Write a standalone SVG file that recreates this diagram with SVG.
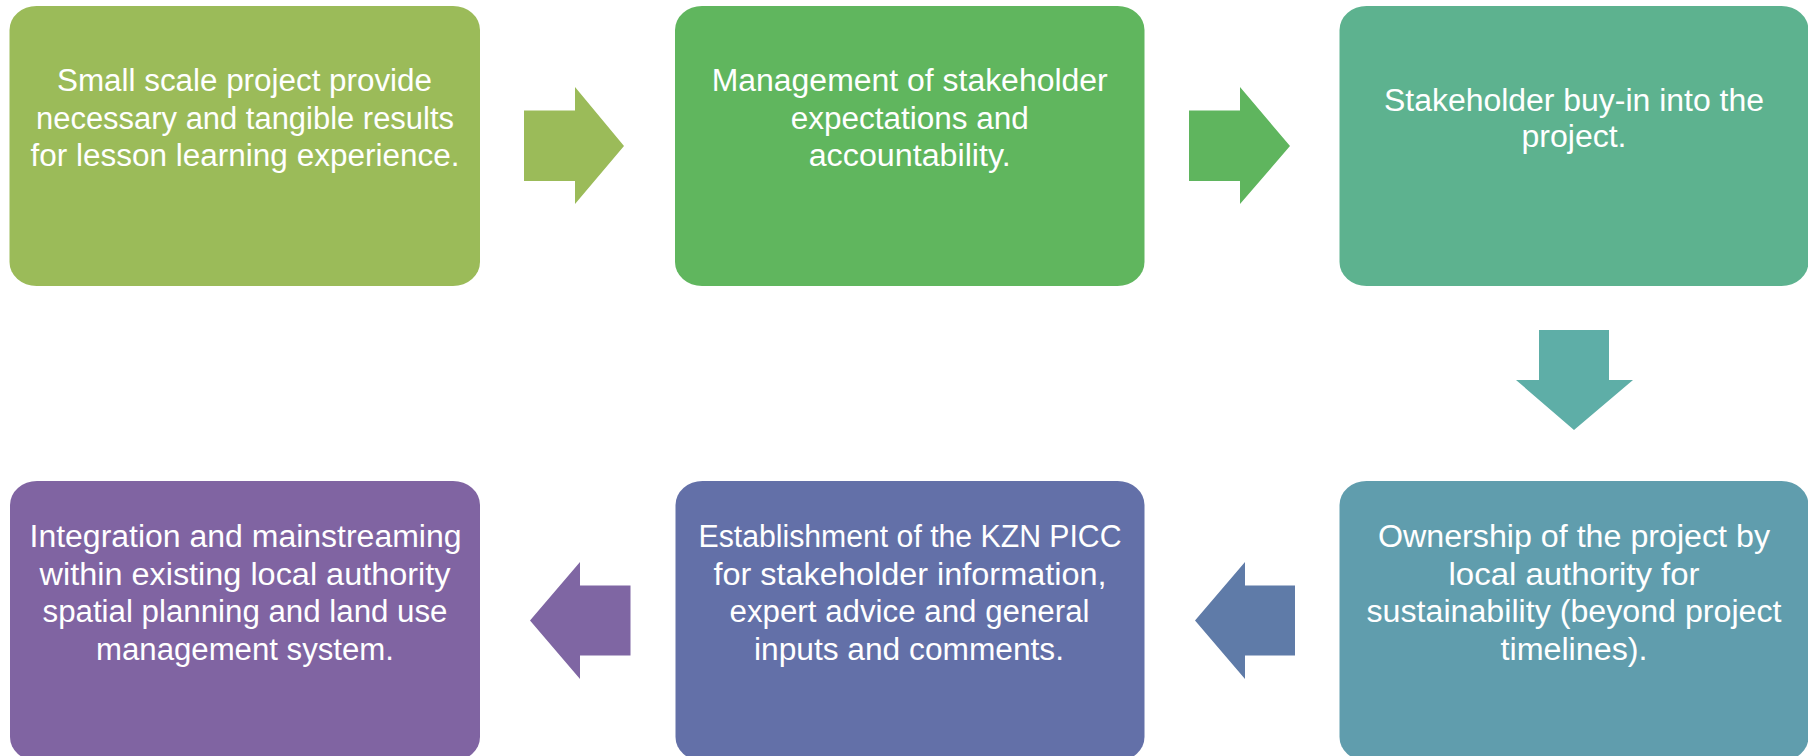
<svg xmlns="http://www.w3.org/2000/svg" width="1808" height="756" viewBox="0 0 1808 756">
<style>
.box{stroke:none}
.t{font-family:"Liberation Sans",Arial,sans-serif;font-size:31px;fill:#ffffff;text-anchor:middle}
</style>
<rect width="1808" height="756" fill="#ffffff"/>
<g id="connectors">
  <polygon id="a1" points="524,110.5 575,110.5 575,87 624,146 575,204 575,181 524,181" fill="#9BBB59"/>
  <polygon id="a2" points="1189,110.5 1240,110.5 1240,87 1290,146 1240,204 1240,181 1189,181" fill="#5FB55E"/>
  <polygon id="a3" points="1539,330 1609,330 1609,380 1633,380 1574,430 1516,380 1539,380" fill="#5EAEA7"/>
  <polygon id="a4" points="1295,585.5 1245,585.5 1245,562 1195,620.5 1245,679 1245,655.5 1295,655.5" fill="#5F7BA8"/>
  <polygon id="a5" points="630.5,585.5 580,585.5 580,562 530,620.5 580,679 580,655.5 630.5,655.5" fill="#7F66A3"/>
</g>
<g id="n1">
  <rect class="box" x="9.5" y="6" width="470.5" height="280" rx="27" ry="24" fill="#9BBB59"/>
  <text class="t" x="244.5" y="91" textLength="375" lengthAdjust="spacingAndGlyphs">Small scale project provide</text>
  <text class="t" x="245" y="128.5" textLength="418" lengthAdjust="spacingAndGlyphs">necessary and tangible results</text>
  <text class="t" x="245" y="166" textLength="429" lengthAdjust="spacingAndGlyphs">for lesson learning experience.</text>
</g>
<g id="n2">
  <rect class="box" x="675" y="6" width="469.5" height="280" rx="27" ry="24" fill="#60B65E"/>
  <text class="t" x="909.7" y="91" textLength="396" lengthAdjust="spacingAndGlyphs">Management of stakeholder</text>
  <text class="t" x="909.7" y="128.5" textLength="238" lengthAdjust="spacingAndGlyphs">expectations and</text>
  <text class="t" x="909.7" y="166" textLength="202" lengthAdjust="spacingAndGlyphs">accountability.</text>
</g>
<g id="n3">
  <rect class="box" x="1339.5" y="6" width="469" height="280" rx="27" ry="24" fill="#5DB28F"/>
  <text class="t" x="1574" y="110.5" textLength="380" lengthAdjust="spacingAndGlyphs">Stakeholder buy-in into the</text>
  <text class="t" x="1574" y="147" textLength="105" lengthAdjust="spacingAndGlyphs">project.</text>
</g>
<g id="n4">
  <rect class="box" x="1339.5" y="481" width="469" height="280" rx="27" ry="24" fill="#609DAD"/>
  <text class="t" x="1574" y="547" textLength="392" lengthAdjust="spacingAndGlyphs">Ownership of the project by</text>
  <text class="t" x="1574" y="584.5" textLength="251" lengthAdjust="spacingAndGlyphs">local authority for</text>
  <text class="t" x="1574" y="622" textLength="415" lengthAdjust="spacingAndGlyphs">sustainability (beyond project</text>
  <text class="t" x="1574" y="659.5" textLength="147" lengthAdjust="spacingAndGlyphs">timelines).</text>
</g>
<g id="n5">
  <rect class="box" x="675.5" y="481" width="469" height="280" rx="27" ry="24" fill="#6370A8"/>
  <text class="t" x="910" y="547" textLength="423" lengthAdjust="spacingAndGlyphs">Establishment of the KZN PICC</text>
  <text class="t" x="910" y="584.5" textLength="393" lengthAdjust="spacingAndGlyphs">for stakeholder information,</text>
  <text class="t" x="909.5" y="622" textLength="360" lengthAdjust="spacingAndGlyphs">expert advice and general</text>
  <text class="t" x="909" y="659.5" textLength="310" lengthAdjust="spacingAndGlyphs">inputs and comments.</text>
</g>
<g id="n6">
  <rect class="box" x="10" y="481" width="470" height="280" rx="27" ry="24" fill="#8064A2"/>
  <text class="t" x="245.5" y="547" textLength="432" lengthAdjust="spacingAndGlyphs">Integration and mainstreaming</text>
  <text class="t" x="245" y="584.5" textLength="411" lengthAdjust="spacingAndGlyphs">within existing local authority</text>
  <text class="t" x="245" y="622" textLength="405" lengthAdjust="spacingAndGlyphs">spatial planning and land use</text>
  <text class="t" x="245" y="659.5" textLength="298" lengthAdjust="spacingAndGlyphs">management system.</text>
</g>
</svg>
